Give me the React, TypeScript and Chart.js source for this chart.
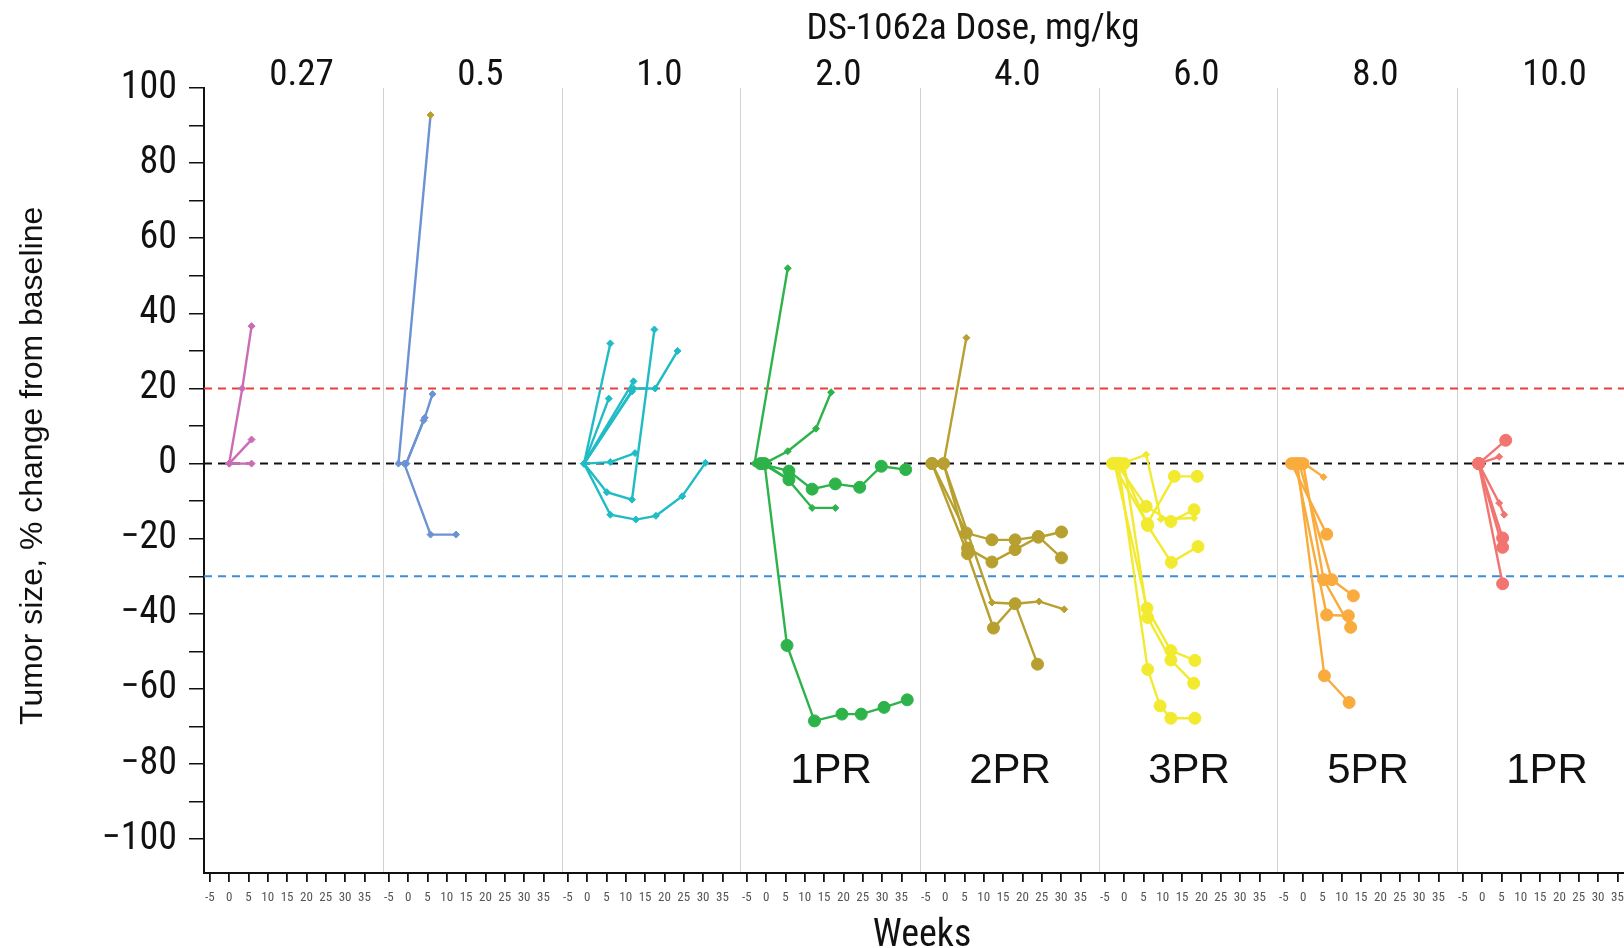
import React, { useEffect, useRef } from 'react';
import { Chart, registerables } from 'chart.js';

Chart.register(...registerables);

const NARROW = "'Liberation Sans Narrow', 'Arial Narrow', 'Roboto Condensed', sans-serif";
const SANS = "'Liberation Sans', Arial, sans-serif";

// ---- labels / categories ----
const DOSE_LABELS = ['0.27', '0.5', '1.0', '2.0', '4.0', '6.0', '8.0', '10.0'];
const DOSE_COLORS = ['#cc6cb4', '#6b93d3', '#1fbcc6', '#2eb34b', '#b7a030', '#f2ea2e', '#f9ab3d', '#f27470'];
const PR_LABELS = ['', '', '', '1PR', '2PR', '3PR', '5PR', '1PR'];
const WEEK_TICKS = [-5, 0, 5, 10, 15, 20, 25, 30, 35];
const Y_TICKS = [-100, -90, -80, -70, -60, -50, -40, -30, -20, -10, 0, 10, 20, 30, 40, 50, 60, 70, 80, 90, 100];
const REF_LEVELS = [20, 0, -30];
const REF_COLORS = ['#ee3b3b', '#111111', '#3b8fd8'];
const TOP_TITLE = 'DS-1062a Dose, mg/kg';
const X_TITLE = 'Weeks';
const Y_TITLE = 'Tumor size, % change from baseline';

// panel geometry (weeks)
const PANEL_WIDTH = 46.3;
const PANEL_MIN = -6.5;
const PANEL_MAX = 39.8;
const DOSE_LABEL_WEEK = 18.7;
const PR_WEEK = 16.8;
const PR_Y = -82;
const TITLE_WEEK = 4 * PANEL_WIDTH + 7.2;

type Patient = { w: number[]; v: number[]; m: 'd' | 'c'; tip?: string };

// ---- series: weeks (w) and % change (v) per patient ----
const DOSE_027: Patient[] = [
  { w: [0, 3.4, 5.8], v: [0, 20, 36.6], m: 'd' },
  { w: [0, 5.8], v: [0, 6.4], m: 'd' },
  { w: [0, 5.8], v: [0, 0], m: 'd' },
];
const DOSE_05: Patient[] = [
  { w: [-2.5, 5.8], v: [0, 92.8], m: 'd', tip: '#b7a030' },
  { w: [-0.5, 4.3, 6.3], v: [0, 12.2, 18.5], m: 'd' },
  { w: [-0.5, 4.0], v: [0, 11.5], m: 'd' },
  { w: [-1, 5.8, 12.4], v: [0, -18.9, -18.9], m: 'd' },
];
const DOSE_10: Patient[] = [
  { w: [-0.8, 6.0], v: [0, 32], m: 'd' },
  { w: [-0.8, 5.6], v: [0, 17.3], m: 'd' },
  { w: [-0.8, 12.0, 17.6, 23.4], v: [0, 20, 20, 30], m: 'd' },
  { w: [-0.8, 12.0], v: [0, 21.9], m: 'd' },
  { w: [-0.8, 11.6], v: [0, 19.2], m: 'd' },
  { w: [-0.8, 5.1, 11.6, 17.4], v: [0, -7.6, -9.6, 35.7], m: 'd' },
  { w: [-0.8, 6.0, 12.4], v: [0, 0.4, 2.8], m: 'd' },
  { w: [-0.8, 6.0, 12.6, 17.8, 24.6, 30.6], v: [0, -13.6, -14.9, -13.9, -8.7, 0.2], m: 'd' },
];
const DOSE_20: Patient[] = [
  { w: [-3.0, 5.6], v: [0, 52], m: 'd' },
  { w: [-0.5, 5.6, 12.9, 16.8], v: [0, 3.3, 9.3, 19.0], m: 'd' },
  { w: [-0.5, 5.5, 11.9, 17.9], v: [0, -4, -11.8, -11.8], m: 'd' },
  { w: [-0.4, 5.4, 12.5, 19.6, 24.6, 30.5, 36.5], v: [0, -48.4, -68.5, -66.7, -66.7, -64.9, -62.9], m: 'c' },
  { w: [-1.5, 5.9, 11.9, 17.9, 24.2, 29.8, 36.1], v: [0, -2.0, -6.8, -5.4, -6.3, -0.7, -1.6], m: 'c' },
  { w: [-1.0, 5.9], v: [0, -4.3], m: 'c' },
];
const DOSE_40: Patient[] = [
  { w: [-0.4, 5.5], v: [0, 33.5], m: 'd' },
  { w: [-3.4, 5.5, 12.1, 18.1, 24.1, 30.1], v: [0, -18.5, -20.3, -20.3, -19.4, -25.1], m: 'c' },
  { w: [-0.4, 5.8, 12.1, 18.1, 24.1, 30.1], v: [0, -22.5, -26.2, -22.9, -19.6, -18.2], m: 'c' },
  { w: [-3.4, 5.8, 12.5, 18.1, 23.9], v: [0, -24, -43.8, -37.3, -53.4], m: 'c' },
  { w: [-0.4, 12.1, 18.1, 24.3, 30.8], v: [0, -37, -37.3, -36.7, -38.8], m: 'd' },
];
const DOSE_60: Patient[] = [
  { w: [-0.5, 5.7, 9.5, 18.1], v: [0, 2.4, -14.8, -14.5], m: 'd' },
  { w: [-3.0, 6.0, 13.0, 18.9], v: [0, -16, -3.4, -3.4], m: 'c' },
  { w: [-2.0, 5.7, 12.1, 18.1], v: [0, -11.4, -15.4, -12.3], m: 'c' },
  { w: [-1.0, 6.1, 12.2, 19.1], v: [0, -16.5, -26.3, -22.1], m: 'c' },
  { w: [-2.5, 5.9, 12.1, 18.3], v: [0, -38.5, -49.8, -52.4], m: 'c' },
  { w: [0.0, 6.1, 12.1, 18.0], v: [0, -41, -52.3, -58.5], m: 'c' },
  { w: [-1.5, 6.1, 9.3, 12.1, 18.3], v: [0, -54.8, -64.5, -67.8, -67.8], m: 'c' },
];
const DOSE_80: Patient[] = [
  { w: [0.3, 5.3], v: [0, -3.6], m: 'd' },
  { w: [-3.0, 6.1], v: [0, -18.8], m: 'c' },
  { w: [-1.0, 7.4, 13.0], v: [0, -30.9, -35.2], m: 'c' },
  { w: [-2.0, 6.1, 11.7], v: [0, -40.3, -40.5], m: 'c' },
  { w: [0.0, 5.3, 12.3], v: [0, -30.9, -43.6], m: 'c' },
  { w: [-1.5, 5.5, 11.9], v: [0, -56.5, -63.6], m: 'c' },
];
const DOSE_100: Patient[] = [
  { w: [-0.9, 6.1], v: [0, 6.2], m: 'c' },
  { w: [-0.9, 4.4], v: [0, 1.8], m: 'd' },
  { w: [-0.9, 4.4, 5.7], v: [0, -10.5, -13.6], m: 'd' },
  { w: [-0.9, 5.3], v: [0, -19.8], m: 'c' },
  { w: [-0.9, 5.3], v: [0, -22.3], m: 'c' },
  { w: [-0.9, 5.3], v: [0, -32], m: 'c' },
];

const PANELS: Patient[][] = [DOSE_027, DOSE_05, DOSE_10, DOSE_20, DOSE_40, DOSE_60, DOSE_80, DOSE_100];

const X_MIN = PANEL_MIN;
const X_MAX = (DOSE_LABELS.length - 1) * PANEL_WIDTH + PANEL_MAX;

function buildDatasets(): any[] {
  const ds: any[] = [];
  PANELS.forEach((patients, i) => {
    const col = DOSE_COLORS[i];
    patients.forEach((p) => {
      const ptCols = p.w.map((_, k) => (p.tip && k === p.w.length - 1 ? p.tip : col));
      ds.push({
        data: p.w.map((wk, k) => ({ x: i * PANEL_WIDTH + wk, y: p.v[k] })),
        borderColor: col,
        backgroundColor: col,
        pointBackgroundColor: ptCols,
        pointBorderColor: ptCols,
        pointStyle: p.m === 'c' ? 'circle' : 'rectRot',
        pointRadius: p.m === 'c' ? 6 : 3.5,
        pointBorderWidth: 1,
        borderWidth: 2.4,
        tension: 0,
        order: 1,
      });
    });
  });
  REF_LEVELS.forEach((lv, j) => {
    ds.push({
      data: [
        { x: X_MIN, y: lv },
        { x: X_MAX, y: lv },
      ],
      borderColor: REF_COLORS[j],
      borderWidth: 2,
      borderDash: [8, 6],
      pointRadius: 0,
      order: 5,
    });
  });
  return ds;
}

const annotPlugin = {
  id: 'annot',
  afterDraw(chart: any) {
    const { ctx, chartArea, scales } = chart;
    const xs = scales.x;
    const ys = scales.y;
    ctx.save();
    ctx.fillStyle = '#111';
    ctx.textAlign = 'center';
    ctx.textBaseline = 'middle';
    ctx.font = `42px ${SANS}`;
    PR_LABELS.forEach((lab, i) => {
      if (!lab) return;
      ctx.fillText(lab, xs.getPixelForValue(i * PANEL_WIDTH + PR_WEEK), ys.getPixelForValue(PR_Y));
    });
    ctx.font = `37px ${NARROW}`;
    ctx.fillText(TOP_TITLE, xs.getPixelForValue(TITLE_WEEK), 30);
    ctx.font = `38px ${NARROW}`;
    ctx.fillText(X_TITLE, (chartArea.left + chartArea.right) / 2 + 2, 936);
    ctx.translate(33, ys.getPixelForValue(-0.6));
    ctx.rotate(-Math.PI / 2);
    ctx.font = `32px ${SANS}`;
    ctx.fillText(Y_TITLE, 0, 0);
    ctx.restore();
  },
};

export default function App() {
  const canvasRef = useRef<HTMLCanvasElement | null>(null);

  useEffect(() => {
    if (!canvasRef.current) return;
    const bottomTicks: any[] = [];
    DOSE_LABELS.forEach((_, i) => {
      WEEK_TICKS.forEach((t) => bottomTicks.push({ value: i * PANEL_WIDTH + t, lbl: String(t) }));
    });
    const topTicks: any[] = [];
    DOSE_LABELS.forEach((d, i) => {
      topTicks.push({ value: i * PANEL_WIDTH + PANEL_MIN, lbl: '', sep: true });
      topTicks.push({ value: i * PANEL_WIDTH + DOSE_LABEL_WEEK, lbl: d, sep: false });
    });

    const chart = new Chart(canvasRef.current, {
      type: 'line',
      data: { datasets: buildDatasets() },
      options: {
        animation: false,
        responsive: true,
        maintainAspectRatio: false,
        layout: { padding: 0 },
        plugins: { legend: { display: false }, tooltip: { enabled: false }, title: { display: false } },
        scales: {
          x: {
            type: 'linear',
            position: 'bottom',
            min: X_MIN,
            max: X_MAX,
            afterBuildTicks: (s: any) => {
              s.ticks = bottomTicks.map((t) => ({ ...t }));
            },
            afterFit: (s: any) => {
              s.height = 75;
            },
            ticks: {
              autoSkip: false,
              maxRotation: 0,
              minRotation: 0,
              padding: 8,
              color: '#555',
              font: { family: NARROW, size: 13 },
              callback: (_v: any, i: number, t: any[]) => t[i].lbl,
            },
            grid: { drawOnChartArea: false, drawTicks: true, tickLength: 9, color: '#111', lineWidth: 1.8 },
            border: { display: true, color: '#111', width: 2 },
          },
          xTop: {
            type: 'linear',
            position: 'top',
            min: X_MIN,
            max: X_MAX,
            afterBuildTicks: (s: any) => {
              s.ticks = topTicks.map((t) => ({ ...t }));
            },
            afterFit: (s: any) => {
              s.height = 88;
            },
            ticks: {
              autoSkip: false,
              maxRotation: 0,
              minRotation: 0,
              padding: -6,
              color: '#111',
              font: { family: NARROW, size: 37, lineHeight: 1 },
              callback: (_v: any, i: number, t: any[]) => t[i].lbl,
            },
            grid: {
              drawOnChartArea: true,
              drawTicks: false,
              lineWidth: 1,
              color: (c: any) => (c.tick && c.tick.sep ? '#d2d2d2' : 'rgba(0,0,0,0)'),
            },
            border: { display: false },
          },
          y: {
            type: 'linear',
            min: -109,
            max: 100,
            afterBuildTicks: (s: any) => {
              s.ticks = Y_TICKS.map((v) => ({ value: v }));
            },
            afterFit: (s: any) => {
              s.width = 204;
            },
            ticks: {
              autoSkip: false,
              padding: 12,
              color: '#111',
              font: { family: NARROW, size: 38 },
              callback: (v: any) => {
                const n = Number(v);
                if (n % 20 !== 0) return '';
                return n < 0 ? '\u2212' + Math.abs(n) : String(n);
              },
            },
            grid: { drawOnChartArea: false, drawTicks: true, tickLength: 15, color: '#111', lineWidth: 1.5 },
            border: { display: true, color: '#111', width: 2 },
          },
        },
      } as any,
      plugins: [annotPlugin],
    });
    return () => chart.destroy();
  }, []);

  return (
    <div style={{ position: 'fixed', left: 0, top: 0, width: 1624, height: 948, overflow: 'hidden', background: '#fff' }}>
      <div style={{ position: 'relative', width: 1643, height: 948 }}>
        <canvas ref={canvasRef} />
      </div>
    </div>
  );
}
